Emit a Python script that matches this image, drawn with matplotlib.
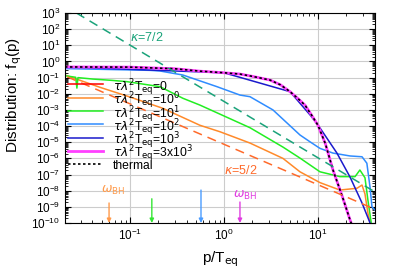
import numpy as np
import matplotlib
matplotlib.use("Agg")
import matplotlib.pyplot as plt

# momentum p/T_eq and log10 of f_q(p)
p_th = [0.0204, 0.1, 0.3, 0.555, 1.0, 1.48, 2.0, 3.09, 4.0, 5.04, 6.0, 7.27, 8.5, 10.0, 12.0, 14.4, 18.0, 21.9, 26.0]
lf_th = [-0.34, -0.35, -0.45, -0.6, -0.7, -0.78, -0.92, -1.15, -1.45, -1.87, -2.25, -2.7, -3.3, -3.95, -5.1, -6.7, -8.3, -9.8, -11.0]

p_navy = [0.0204, 1.0, 5.04, 8.21, 10.0, 15.9, 21.9, 29.4, 35.8, 38.0]
lf_navy = [-0.34, -0.7, -1.87, -3.3, -3.93, -5.67, -7.15, -8.76, -10.0, -10.5]

p_blue = [0.0204, 0.163, 0.209, 0.366, 0.842, 1.48, 1.89, 3.32, 6.43, 8.21, 10.5, 14.4, 21.9, 29.4, 33.1, 35.8, 37.5, 40.4]
lf_blue = [-0.44, -0.55, -0.59, -0.84, -1.56, -2.08, -2.18, -3.0, -4.55, -4.97, -5.38, -5.67, -5.85, -5.9, -6.3, -7.8, -9.0, -9.2]

p_green = [0.0204, 0.0265, 0.0273, 0.028, 0.0404, 0.0644, 0.0929, 0.209, 0.366, 0.555, 1.89, 4.24, 6.43, 10.5, 17.1, 24.8, 27.9, 31.6, 34.0, 37.5]
lf_green = [-0.88, -0.98, -1.65, -1.0, -1.09, -1.17, -1.25, -1.56, -2.28, -2.7, -4.1, -5.3, -5.98, -6.83, -7.13, -7.13, -6.72, -7.2, -8.6, -10.3]

p_orange = [0.0204, 0.048, 0.1, 0.224, 0.555, 0.906, 1.89, 4.24, 6.43, 10.5, 17.1, 26.0, 29.4, 31.6, 34.0, 37.5]
lf_orange = [-0.84, -1.6, -2.2, -2.9, -3.95, -4.35, -5.05, -6.0, -6.83, -7.5, -7.96, -7.85, -7.65, -8.2, -9.4, -10.5]

# power-law guides
p_k72 = [0.027, 40.4]
lf_k72 = [3.0, -8.08]
p_k52 = [0.0215, 40.4]
lf_k52 = [-0.95, -9.15]

# omega_BH arrows: position, log10 of tail height
arrow_p = [0.06, 0.171, 0.57, 1.48]
arrow_top = [-8.76, -8.5, -7.96, -8.7]
arrow_col = ["#ff9a4a", "#33e633", "#4a9cff", "#e03ce0"]

labels = [r"$\tau\lambda^2$T$_{\rm eq}$=0",
          r"$\tau\lambda^2$T$_{\rm eq}$=10$^0$",
          r"$\tau\lambda^2$T$_{\rm eq}$=10$^1$",
          r"$\tau\lambda^2$T$_{\rm eq}$=10$^2$",
          r"$\tau\lambda^2$T$_{\rm eq}$=10$^3$",
          r"$\tau\lambda^2$T$_{\rm eq}$=3x10$^3$",
          "thermal"]

plt.rcParams["font.family"] = ["Liberation Sans", "DejaVu Sans"]
plt.rcParams["mathtext.fontset"] = "dejavusans"

fig = plt.figure(figsize=(3.99, 2.79), dpi=100)
ax = fig.add_axes([65/399, 1-223/279, 310/399, 210/279])

def pw(v):
    return 10.0 ** np.array(v)

lw = 1.1
styles = [dict(color="#ff0000", lw=lw),
          dict(color="#ff8a2a", lw=lw),
          dict(color="#22ee22", lw=lw),
          dict(color="#2f8cff", lw=lw),
          dict(color="#1a1acc", lw=lw),
          dict(color="#ff40ff", lw=2.0),
          dict(color="black", lw=1.2, ls=(0, (1.5, 1.5)))]
series = [(p_th, lf_th), (p_orange, lf_orange), (p_green, lf_green),
          (p_blue, lf_blue), (p_navy, lf_navy), (p_th, lf_th), (p_th, lf_th)]
for (px, lf), st in zip(series, styles):
    ax.plot(px, pw(lf), **st)

ax.plot(p_k72, pw(lf_k72), color="#1aa37a", lw=1.1, ls=(0, (6, 4)))
ax.plot(p_k52, pw(lf_k52), color="#ff6a2a", lw=1.1, ls=(0, (6, 4)))
ax.text(0.1, 10**1.5, r"$\kappa$=7/2", color="#1aa37a", fontsize=9, va="center")
ax.text(1.0, 10**-6.72, r"$\kappa$=5/2", color="#ff6a2a", fontsize=9, va="center")

for p, top, c in zip(arrow_p, arrow_top, arrow_col):
    ax.annotate("", xy=(p, 1e-10), xytext=(p, 10**top),
                arrowprops=dict(arrowstyle="-|>", color=c, lw=1.0,
                                mutation_scale=6, shrinkA=0, shrinkB=0))
ax.text(0.067, 10**-8.0, r"$\omega_{\rm BH}$", color="#ff9a4a", fontsize=9, ha="center", va="center")
ax.text(1.67, 10**-8.27, r"$\omega_{\rm BH}$", color="#e03ce0", fontsize=9, ha="center", va="center")

# key drawn by hand so the rows sit as tight as in the original
for i, (lab, st) in enumerate(zip(labels, styles)):
    yk = (223 - (84.3 + 13.3 * i)) / 210
    ax.plot([0.01, 0.123], [yk, yk], transform=ax.transAxes, **st)
    ax.text(0.155, yk, lab, transform=ax.transAxes, fontsize=8.7, va="center_baseline")

ax.set_xscale("log")
ax.set_yscale("log")
ax.set_xlim(0.0204, 40.4)
ax.set_ylim(1e-10, 1e3)
ax.set_yticks(10.0 ** np.arange(-10, 4))
ax.grid(True, which="major", color="#cccccc", lw=0.8)
ax.tick_params(which="both", direction="in", top=True, right=True, labelsize=8.5)
ax.tick_params(which="major", length=4)
ax.tick_params(which="minor", length=2)
ax.yaxis.set_minor_locator(matplotlib.ticker.LogLocator(base=10, subs=np.arange(2, 10), numticks=50))
ax.yaxis.set_minor_formatter(matplotlib.ticker.NullFormatter())

ax.set_xlabel(r"p/T$_{\rm eq}$", fontsize=11)
ax.xaxis.set_label_coords(0.5, -0.125)
ax.set_ylabel(r"Distribution: f$_{\rm q}$(p)", fontsize=11)
ax.yaxis.set_label_coords(-0.197, 0.61)
ax.yaxis.label.set_va("top")

fig.savefig("out.png", dpi=100)
